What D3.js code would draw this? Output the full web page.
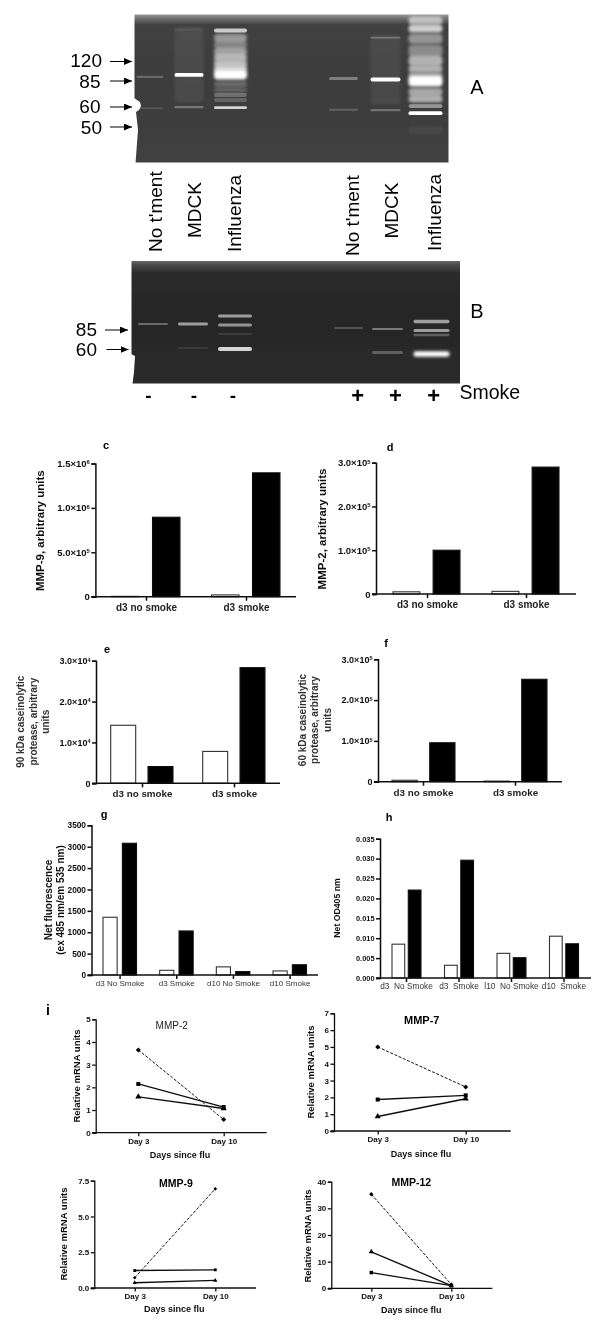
<!DOCTYPE html>
<html><head><meta charset="utf-8">
<script src="https://cdn.jsdelivr.net/npm/d3@7"></script>
<style>
html,body{margin:0;padding:0;background:#fff}
svg{display:block;font-family:"Liberation Sans",Arial,sans-serif}
</style></head><body><div id="chart"></div>
<script>
// ---------- gel data: [lane, migration, intensity, thickness]
const gelALanes = [0,1,2,3,4,5];
const gelABands = [
 [0,62,.22,2.4],[0,93,.12,2],
 [1,50,.07,75],[1,60,1,3.8],[1,92,.3,2.4],[1,15,.06,2],
 [2,16,.72,4],[2,23,.45,8],[2,30,.35,8],[2,37,.5,8],[2,43,.6,7],[2,49,.65,7],[2,54,.7,6],[2,59.5,1,10],
 [2,69,.25,5],[2,75,.2,5],[2,80,.25,4],[2,85,.2,4],[2,92.5,.78,2.8],
 [3,63.6,.34,3],[3,94.5,.2,2],
 [4,23,.25,1.8],[4,55,.06,70],[4,64.5,1,4],[4,95,.27,2.4],
 [5,6,.6,8],[5,14,.75,8],[5,24,.45,10],[5,36,.4,12],[5,46,.6,10],[5,54,.6,7],[5,60,.45,6],[5,66,1,11],
 [5,77,.55,8],[5,84,.6,7],[5,91,.45,3.6],[5,98,1,3.8],[5,115,.05,8]
];
const gelBLanes = [0,1,2,3,4,5];
const gelBBands = [
 [0,63,.3,2.2],
 [1,63,.55,2.8],[1,87,.08,2],
 [2,55,.55,3],[2,64,.5,3],[2,73,.1,2],[2,88,.8,3.8],
 [3,67,.2,1.8],
 [4,68,.38,2.2],[4,91.5,.26,3],
 [5,60.5,.55,3.4],[5,69.5,.55,3.2],[5,74,.25,2.4],[5,93,1,5.4]
];
const markersA = ["120","85","60","50"];
const markersB = ["85","60"];
const laneNames = ["No t'ment","MDCK","Influenza","No t'ment","MDCK","Influenza"];
const smokeSigns = ["-","-","-","+","+","+"];

// ---------- bar data
const catsTwo = ["d3 no smoke","d3 smoke"];
const cOpen = [4000,20000],   cFilled = [895000,1395000];
const dOpen = [5000,6000],    dFilled = [100000,290000];
const eOpen = [14200,7800],   eFilled = [4100,28300];
const fOpen = [3500,1500],    fFilled = [95500,251000];
const catsG = ["d3 No Smoke","d3 Smoke","d10 No Smoke","d10 Smoke"];
const gOpen = [1350,110,190,95], gFilled = [3080,1030,80,240];
const catsH = ["d3  No Smoke","d3  Smoke","l10  No Smoke","d10  Smoke"];
const hOpen = [.0085,.0032,.0062,.0105], hFilled = [.0221,.0296,.0051,.0086];

// ---------- line data
const days = ["Day 3","Day 10"];
const mmp2Diamond=[3.65,.58], mmp2Square=[2.15,1.13], mmp2Triangle=[1.58,1.07];
const mmp7Diamond=[5,2.62],   mmp7Square=[1.87,2.12], mmp7Triangle=[.86,1.92];
const mmp9Diamond=[.72,6.93], mmp9Square=[1.22,1.27], mmp9Triangle=[.37,.53];
const mmp12Diamond=[35.3,1.4],mmp12Square=[5.9,1.0],  mmp12Triangle=[13.7,1.0];

const svg=d3.select("#chart").append("svg").attr("width",600).attr("height",1328).attr("viewBox","0 0 600 1328");
const defs=svg.append("defs");
[["b1",.7],["b2",1.7]].forEach(([id,s])=>defs.append("filter").attr("id",id)
  .attr("filterUnits","userSpaceOnUse").attr("x",100).attr("y",0).attr("width",400).attr("height",420)
  .append("feGaussianBlur").attr("stdDeviation",s));
defs.append("filter").attr("id","bt").attr("filterUnits","userSpaceOnUse").attr("x",0).attr("y",0).attr("width",600).attr("height",1328)
  .append("feGaussianBlur").attr("stdDeviation",.28);
defs.append("marker").attr("id","ah").attr("markerWidth",9).attr("markerHeight",8).attr("refX",8).attr("refY",3.5)
  .attr("orient","auto").attr("markerUnits","userSpaceOnUse")
  .append("path").attr("d","M0,0L8,3.5L0,7Z").attr("fill","#000");

const root=svg.append("g").style("filter","url(#bt)");

function text(g,s,x,y,o={}){
  return g.append("text").attr("x",x).attr("y",y).attr("font-size",o.size||10)
   .attr("font-weight",o.bold?700:400).attr("text-anchor",o.anchor||"middle")
   .attr("dy",o.dy||".35em").attr("fill",o.fill||"#000").text(s);
}
function vtext(g,s,x,y,o={}){
  return g.append("text").attr("transform",`translate(${x},${y}) rotate(-90)`).attr("font-size",o.size||10)
   .attr("font-weight",o.bold?700:400).attr("text-anchor",o.anchor||"middle").attr("dy",".35em")
   .attr("fill",o.fill||"#000").text(s);
}

function gel(id,box,bg,laneX,laneW,bands,rows){
  const g=root.append("g");
  const grad=defs.append("linearGradient").attr("id",id).attr("x1",0).attr("x2",0).attr("y1",0).attr("y2",1);
  bg.forEach(([o,c])=>grad.append("stop").attr("offset",o).attr("stop-color",c));
  const cp=defs.append("clipPath").attr("id",id+"c");
  cp.append("rect").attr("x",box.x0).attr("y",box.y0).attr("width",box.x1-box.x0).attr("height",box.y1-box.y0);
  g.append("rect").attr("x",box.x0).attr("y",box.y0).attr("width",box.x1-box.x0).attr("height",box.y1-box.y0).attr("fill",`url(#${id})`);
  const y=d3.scaleLinear().domain([0,rows]).range([box.y0,box.y1]);
  const inner=g.append("g").attr("clip-path",`url(#${id}c)`);
  inner.selectAll("rect.band").data(bands).join("rect").attr("class","band")
    .attr("x",d=>laneX(d[0])-laneW(d[0])/2)
    .attr("width",d=>laneW(d[0]))
    .attr("y",d=>y(d[1])-d[3]/2).attr("height",d=>d[3])
    .attr("rx",d=>Math.min(4,d[3]/2))
    .attr("fill","#fff").attr("opacity",d=>d[2])
    .attr("filter",d=>d[3]>4.5?"url(#b2)":"url(#b1)");
  return g;
}
function arrow(g,x0,x1,y){
  g.append("line").attr("x1",x0).attr("x2",x1).attr("y1",y).attr("y2",y).attr("stroke","#000").attr("stroke-width",1).attr("marker-end","url(#ah)");
}

// ---- Gel A
const laneAx=d3.scaleOrdinal().domain(gelALanes).range([150,189,230.5,343.5,385.5,425.5]);
const laneAw=d3.scaleOrdinal().domain(gelALanes).range([27,29,33,29,30,34]);
const gA=gel("gelA",{x0:134.5,x1:448.5,y0:14.5,y1:162.5},[[0,"#9a9a9a"],[.02,"#7a7a7a"],[.07,"#404040"],[.5,"#3c3c3c"],[1,"#404040"]],laneAx,laneAw,gelABands,147);
gA.append("path").attr("d","M134,98L140,102L141,106L139,110L136,112L138,130L135.5,163L134,163Z").attr("fill","#fff");
[[102,60],[100.5,81],[100.5,106],[102,127]].forEach(([x,y],i)=>text(root,markersA[i],x,y,{size:19,anchor:"end"}));
[[110,132,61.5],[110,132,81],[110,132,107],[110,132,127]].forEach(a=>arrow(root,a[0],a[1],a[2]));
text(root,"A",477,87,{size:20});

// lane labels
[[155.8,252],[194,238],[234,252],[352,256],[391.5,238.5],[434,251]].forEach(([x,y],i)=>vtext(root,laneNames[i],x,y,{size:19,anchor:"start"}));

// ---- Gel B
const laneBx=d3.scaleOrdinal().domain(gelBLanes).range([153,193,235,348.5,387.5,431.5]);
const laneBw=d3.scaleOrdinal().domain(gelBLanes).range([30,30,34,29,31,36]);
const gB=gel("gelB",{x0:131.5,x1:460,y0:261,y1:383.5},[[0,"#6a6a6a"],[.03,"#4a4a4a"],[.1,"#2a2a2a"],[.5,"#262626"],[1,"#2c2c2c"]],laneBx,laneBw,gelBBands,122.5);
gB.append("path").attr("d","M131,354L135,356L134,372L132.5,384L131,384Z").attr("fill","#fff");
text(root,markersB[0],97,329,{size:19,anchor:"end"});
text(root,markersB[1],97,349,{size:19,anchor:"end"});
arrow(root,105,128,330); arrow(root,106.5,128.5,349.5);
text(root,"B",477,311,{size:20});
[[148.5,396],[194,396],[233,396]].forEach(([x,y],i)=>text(root,smokeSigns[i],x,y-1,{size:19,bold:true}));
[[357.7,395],[395.4,395],[433.8,395]].forEach(([x,y],i)=>text(root,smokeSigns[i+3],x,y,{size:22,bold:true}));
text(root,"Smoke",459.5,392,{size:19.5,anchor:"start"});

// ---- charts
function sciTick(sel,size){
  sel.selectAll(".tick text").each(function(d){
    const t=d3.select(this);
    if(d===0){t.text("0");return;}
    const e=Math.floor(Math.log10(d)+1e-9), m=d/Math.pow(10,e);
    t.text(m.toFixed(1)+"×10");
    t.append("tspan").attr("font-size",size*.62).attr("dy","-.45em").text(e);
  });
}
function barChart(o){
  const g=root.append("g");
  const y=d3.scaleLinear().domain(o.yDomain).range([o.base,o.top]);
  const xc=d3.scalePoint().domain(o.cats).range(o.centers);
  const sub=d3.scaleBand().domain(["open","filled"]).range(o.sub).paddingInner(o.pad);
  const rows=o.cats.map((c,i)=>({c,open:o.open[i],filled:o.filled[i]}));
  ["open","filled"].forEach(k=>{
    g.selectAll("rect."+k).data(rows).join("rect").attr("class",k)
     .attr("x",d=>xc(d.c)+sub(k)).attr("width",sub.bandwidth())
     .attr("y",d=>y(d[k])).attr("height",d=>Math.max(0,y(0)-y(d[k])))
     .attr("fill",k==="open"?"#fff":"#000").attr("stroke",k==="open"?"#333":"#111").attr("stroke-width",1.1);
  });
  const ay=g.append("g").attr("transform",`translate(${o.left},0)`)
    .call(d3.axisLeft(y).tickValues(o.ticks).tickSizeOuter(0).tickSize(4).tickPadding(o.tp||1.5).tickFormat(o.fmt||(d=>d)));
  ay.selectAll("text").attr("font-size",o.tickSize).attr("font-weight",700).attr("font-family","inherit").attr("fill","#111");
  ay.selectAll("line,path").attr("stroke","#111").attr("stroke-width",1.5);
  if(o.sci) sciTick(ay,o.tickSize);
  g.append("line").attr("x1",o.left-4).attr("x2",o.right).attr("y1",y(0)).attr("y2",y(0)).attr("stroke","#111").attr("stroke-width",1.5);
  const ax=g.append("g").attr("transform",`translate(0,${y(0)})`)
    .call(d3.axisBottom(xc).tickSize(4).tickSizeOuter(0).tickPadding(o.xp));
  ax.select(".domain").remove();
  ax.selectAll("line").attr("stroke","#111").attr("stroke-width",1.5);
  ax.selectAll("text").attr("font-size",o.xSize).attr("font-weight",o.xBold?700:400).attr("font-family","inherit").attr("fill",o.xBold?"#222":"#333").style("white-space","pre");
  text(g,o.letter,o.lx,o.ly,{size:o.lsize||11,bold:true});
  o.ylabel.forEach(l=>vtext(g,l[0],l[1],o.yc,{size:o.ysize,bold:true,fill:o.yfill||"#111"}));
}
barChart({cats:catsTwo,open:cOpen,filled:cFilled,yDomain:[0,1.5e6],ticks:[0,5e5,1e6,1.5e6],sci:true,left:95.4,right:296,top:463.5,base:596.7,centers:[146,246],sub:[-34.5,34],pad:.33,tickSize:9.5,xSize:10,xBold:true,xp:3,letter:"c",lx:106,ly:445,ylabel:[["MMP-9, arbitrary units",39.6]],yc:530.7,ysize:11.5});
barChart({cats:catsTwo,open:dOpen,filled:dFilled,yDomain:[0,3e5],ticks:[0,1e5,2e5,3e5],sci:true,left:376,right:576,top:462.7,base:594,centers:[427,526],sub:[-34,33],pad:.33,tickSize:9.5,xSize:10,xBold:true,xp:3,letter:"d",lx:390,ly:447,ylabel:[["MMP-2, arbitrary units",322]],yc:529,ysize:11.5});
barChart({cats:catsTwo,open:eOpen,filled:eFilled,yDomain:[0,3e4],ticks:[0,1e4,2e4,3e4],sci:true,left:96,right:280,top:660.7,base:783.3,centers:[142,234],sub:[-31.3,31],pad:.33,tickSize:9,xSize:9.8,xBold:true,xp:3,letter:"e",lx:107,ly:649,ylabel:[["90 kDa caseinolytic",20],["protease, arbitrary",33.5],["units",45]],yc:721.7,ysize:10,yfill:"#333"});
barChart({cats:catsTwo,open:fOpen,filled:fFilled,yDomain:[0,3e5],ticks:[0,1e5,2e5,3e5],sci:true,left:378,right:562,top:659.3,base:781.7,centers:[423,515],sub:[-31,32],pad:.33,tickSize:9,xSize:9.8,xBold:true,xp:3,letter:"f",lx:386,ly:643,ylabel:[["60 kDa caseinolytic",302],["protease, arbitrary",314.6],["units",327]],yc:720,ysize:10,yfill:"#333"});
barChart({cats:catsG,open:gOpen,filled:gFilled,yDomain:[0,3500],ticks:d3.range(0,3501,500),left:91.5,right:318,top:825.3,base:975,centers:[119.6,289.6],sub:[-16.6,16.9],pad:.27,tickSize:8.3,xSize:8,xBold:false,xp:1,letter:"g",lx:104,ly:814,ylabel:[["Net fluorescence",48],["(ex 485 nm/em 535 nm)",60.4]],yc:900,ysize:10});
barChart({cats:catsH,open:hOpen,filled:hFilled,yDomain:[0,.035],ticks:d3.range(0,8).map(i=>i*.005),fmt:d3.format(".3f"),left:380,right:591,top:838.7,base:978,centers:[406,563.5],sub:[-14,15],pad:.22,tickSize:7.4,xSize:8.3,xBold:false,xp:1,letter:"h",lx:389,ly:817,ylabel:[["Net OD405 nm",337]],yc:908,ysize:8.7});
text(root,"i",48,1010,{size:14,bold:true});

function linePanel(o){
  const g=root.append("g");
  const x=d3.scalePoint().domain(days).range(o.days);
  const y=d3.scaleLinear().domain(o.yDomain).range([o.base,o.top]);
  const ln=d3.line().x(d=>x(d.day)).y(d=>y(d.v));
  const series=[
   {vals:o.diamond,sym:d3.symbolDiamond2||d3.symbolDiamond,dash:"3,1.6",w:1,s:o.ms},
   {vals:o.square,sym:d3.symbolSquare,dash:null,w:1.4,s:o.ms},
   {vals:o.triangle,sym:d3.symbolTriangle,dash:null,w:1.4,s:o.ms}
  ];
  series.forEach(s=>{
   const pts=days.map((d,i)=>({day:d,v:s.vals[i]}));
   g.append("path").attr("d",ln(pts)).attr("fill","none").attr("stroke","#111").attr("stroke-width",s.w).attr("stroke-dasharray",s.dash);
   g.selectAll(null).data(pts).join("path").attr("d",d3.symbol().type(s.sym).size(s.s))
     .attr("transform",d=>`translate(${x(d.day)},${y(d.v)})`).attr("fill","#000");
  });
  const ay=g.append("g").attr("transform",`translate(${o.left},0)`)
    .call(d3.axisLeft(y).tickValues(o.ticks).tickSizeOuter(0).tickSize(3.5).tickPadding(1.5).tickFormat(o.fmt));
  ay.selectAll("text").attr("font-size",8).attr("font-weight",700).attr("font-family","inherit").attr("fill","#111");
  ay.selectAll("line,path").attr("stroke","#111").attr("stroke-width",1.3);
  g.append("line").attr("x1",o.left-3.5).attr("x2",o.right).attr("y1",y(o.yDomain[0])).attr("y2",y(o.yDomain[0])).attr("stroke","#111").attr("stroke-width",1.3);
  const ax=g.append("g").attr("transform",`translate(0,${o.base})`).call(d3.axisBottom(x).tickSize(3.5).tickSizeOuter(0).tickPadding(2));
  ax.select(".domain").remove();
  ax.selectAll("line").attr("stroke","#111").attr("stroke-width",1.3);
  ax.selectAll("text").attr("font-size",8).attr("font-weight",700).attr("font-family","inherit").attr("fill","#111");
  text(g,o.title,o.tx,o.ty,{size:o.tsize,bold:o.tbold,fill:o.tbold?"#000":"#222"});
  text(g,"Days since flu",o.xlx,o.xly,{size:9,bold:true,fill:"#111"});
  vtext(g,"Relative mRNA units",o.ylx,o.yly,{size:9.5,bold:true,fill:"#111"});
}
const fi=d3.format("d"), f1=d3.format(".1f");
linePanel({diamond:mmp2Diamond,square:mmp2Square,triangle:mmp2Triangle,yDomain:[0,5],ticks:[0,1,2,3,4,5],fmt:fi,left:95.7,right:266.7,top:1019.3,base:1132.7,days:[138.3,223.7],ms:16,title:"MMP-2",tx:171.7,ty:1025.5,tsize:10,tbold:false,xlx:180,xly:1155,ylx:76.7,yly:1076});
linePanel({diamond:mmp7Diamond,square:mmp7Square,triangle:mmp7Triangle,yDomain:[0,7],ticks:d3.range(0,8),fmt:fi,left:334,right:510.7,top:1013.3,base:1131,days:[377.7,465.7],ms:16,title:"MMP-7",tx:421.7,ty:1020,tsize:11,tbold:true,xlx:421,xly:1154,ylx:310.7,yly:1072});
linePanel({diamond:mmp9Diamond,square:mmp9Square,triangle:mmp9Triangle,yDomain:[0,7.5],ticks:[0,2.5,5,7.5],fmt:f1,left:94.3,right:256,top:1180.7,base:1288,days:[134.7,215.3],ms:8,title:"MMP-9",tx:176,ty:1183,tsize:10.5,tbold:true,xlx:174.3,xly:1309,ylx:64,yly:1234});
linePanel({diamond:mmp12Diamond,square:mmp12Square,triangle:mmp12Triangle,yDomain:[0,40],ticks:[0,10,20,30,40],fmt:fi,left:331.3,right:492.3,top:1181.7,base:1288.3,days:[371.3,451.3],ms:12,title:"MMP-12",tx:411.3,ty:1182,tsize:10.5,tbold:true,xlx:411.3,xly:1309.7,ylx:307.3,yly:1236});
</script></body></html>
